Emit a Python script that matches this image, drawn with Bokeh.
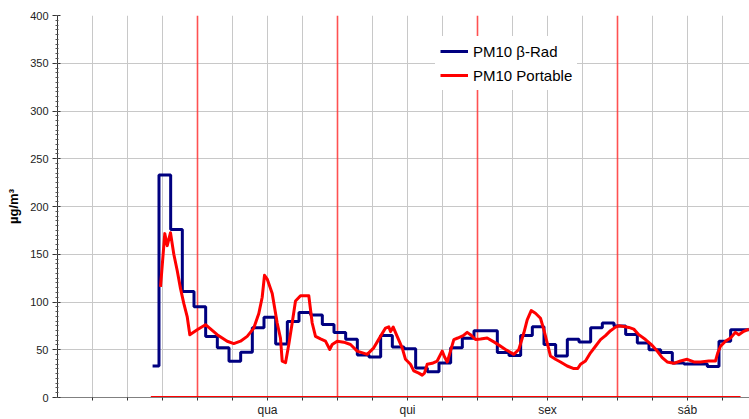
from bokeh.plotting import figure
from bokeh.models import (FixedTicker, SingleIntervalTicker, Legend, LegendItem,
                          Range1d)
from bokeh.embed import file_html
from bokeh.resources import INLINE

# ---------------- data ----------------
# time axis in hours from start of the chart (tue 00:00)
day_names = ["qua", "qui", "sex", "sáb"]
day_mid_hours = [36, 60, 84, 108]
day_start_hours = [24, 48, 72, 96]
grid_hours = [6, 12, 18, 30, 36, 42, 54, 60, 66, 78, 84, 90,
              102, 108, 114]
tick_hours = [6, 12, 18, 24, 30, 36, 42, 48, 54, 60, 66, 72, 78, 84, 90, 96,
              102, 108, 114]

# PM10 beta-Rad (2-hourly values, drawn as steps)
brad_hours = [16.3, 17.4, 19.4, 21.4, 23.4, 25.4, 27.4, 29.4, 31.4, 33.4, 35.4,
              37.4, 39.4, 41.4, 43.4, 45.4, 47.4, 49.4, 51.4, 53.4, 55.4, 57.4,
              59.4, 61.4, 63.4, 65.4, 67.4, 69.4, 71.4, 73.4, 75.4, 77.4, 79.4,
              81.4, 83.4, 85.4, 87.4, 89.4, 91.4, 93.4, 95.4, 97.4, 99.4, 101.4,
              103.4, 105.4, 107.4, 109.4, 111.4, 113.4, 115.4, 117.4, 118.7]
brad_vals = [33, 233, 176, 111, 95, 64, 52, 38, 47.5, 73, 84,
             56, 79.5, 89, 86.5, 76.5, 68, 61, 44.5, 42.5, 65, 53,
             51, 31, 27, 36, 52, 62, 70, 70, 47, 44, 65,
             74, 55.5, 43.5, 61, 58, 73, 78, 75, 66, 57, 50,
             47, 36, 35, 35, 32.5, 59, 71, 71, 71]

# PM10 Portable
port_hours = [17.66, 18.39, 18.81, 19.37, 19.94, 20.52, 21.09, 21.65, 22.23, 22.68,
              23.95, 25.37, 27.38, 29.09, 30.22, 31.37, 32.52, 33.65, 34.51, 35.09,
              35.49, 35.95, 36.81, 37.66, 38.23, 38.52, 39.09, 39.65, 40.23, 40.80,
              41.66, 43.08, 43.66, 44.23, 45.09, 45.94, 46.68, 47.09, 47.95, 49.08,
              50.23, 51.38, 53.09, 54.22, 55.37, 56.23, 56.79, 57.09, 57.55, 58.23,
              59.09, 59.66, 60.51, 61.08, 61.94, 62.52, 62.91, 63.38, 64.23, 65.09,
              65.95, 66.34, 66.81, 67.37, 67.94, 68.62, 69.55, 70.23, 70.80, 71.66,
              72.51, 73.66, 75.09, 76.80, 78.22, 79.08, 79.94, 80.52, 81.21, 81.94,
              82.80, 83.37, 83.95, 84.51, 85.37, 86.23, 87.38, 88.51, 89.19, 89.66,
              90.51, 91.37, 92.23, 93.09, 93.94, 94.80, 95.66, 96.22, 97.08, 97.94,
              98.79, 99.65, 100.80, 101.95, 102.81, 103.66, 104.52, 105.65, 106.80,
              107.95, 109.08, 110.23, 111.65, 112.80, 113.19, 113.66, 114.51, 115.37,
              116.23, 116.79, 117.65, 118.51]
port_vals = [115.8, 171.6, 159, 172.6, 150, 133, 114, 98.5, 84.8, 65.8,
             71, 76.2, 65.8, 58.9, 56.5, 59, 64, 72.7, 88, 105,
             128, 124, 108.8, 78, 62, 38, 36.5, 55.5, 78, 101,
             106.5, 106.5, 78, 64, 61.3, 59, 50.3, 55.5, 59, 57.9,
             55.5, 48.6, 45.2, 52, 64, 72.7, 74, 69, 73.7, 64,
             52, 40, 34.8, 27.9, 25.5, 23.4, 25.5, 34.8, 35.8, 38.2,
             48.6, 42.7, 37.2, 48.6, 60.6, 62.3, 64.8, 68.2, 65.8, 60.7,
             61.3, 62.3, 57.2, 50.3, 45.2, 50.3, 67.5, 81.3, 91, 88.2,
             83, 71, 57.2, 43.4, 40, 37.2, 33, 30.3, 30.3, 34.8,
             38.2, 46.8, 53.7, 60.6, 64.8, 70, 73.7, 75.1, 74.4, 73.4,
             71.6, 65.8, 60.7, 54.5, 48.6, 41.7, 37.2, 35.8, 38.2,
             40, 37.2, 37.2, 38.2, 38.2, 46.8, 53.7, 58.9, 62.3,
             68.2, 65.8, 69.3, 71.6]

# zero baseline of the day-marker series
marker_hours = [16.0, 117.1]
marker_vals = [0, 0]

FONT = "Liberation Sans"

p = figure(width=749, height=419, output_backend="svg", toolbar_location=None,
           x_range=Range1d(0, 118.63), y_range=Range1d(0, 400),
           min_border_left=57, min_border_right=0, min_border_top=15,
           min_border_bottom=17)
p.outline_line_color = None
p.background_fill_color = "white"

# grids
p.xgrid.ticker = FixedTicker(ticks=grid_hours)
p.xgrid.grid_line_color = "#c8c8c8"
p.xgrid.grid_line_width = 1
p.ygrid.ticker = FixedTicker(ticks=[50, 100, 150, 200, 250, 300, 350])
p.ygrid.grid_line_color = "#c8c8c8"
p.ygrid.grid_line_width = 1

# y axis
p.yaxis.ticker = SingleIntervalTicker(interval=50, num_minor_ticks=10)
p.yaxis.axis_label = "µg/m³"
p.yaxis.axis_label_text_font = FONT
p.yaxis.axis_label_text_font_style = "bold"
p.yaxis.axis_label_text_font_size = "13px"
p.yaxis.axis_label_text_color = "#000000"
p.yaxis.axis_label_standoff = 6
p.yaxis.major_label_text_font = FONT
p.yaxis.major_label_text_font_size = "11px"
p.yaxis.major_label_text_color = "#222222"
p.yaxis.major_label_standoff = 4
p.yaxis.major_tick_out = 5
p.yaxis.major_tick_in = 3
p.yaxis.minor_tick_out = 2
p.yaxis.minor_tick_in = 1
p.yaxis.axis_line_color = "#333333"
p.yaxis.major_tick_line_color = "#333333"
p.yaxis.minor_tick_line_color = "#555555"

# x axis
p.xaxis.ticker = FixedTicker(ticks=day_mid_hours, minor_ticks=tick_hours)
p.xaxis.major_label_overrides = {h: n for h, n in zip(day_mid_hours, day_names)}
p.xaxis.major_label_text_font = FONT
p.xaxis.major_label_text_font_size = "12px"
p.xaxis.major_label_text_color = "#222222"
p.xaxis.major_label_standoff = 2
p.xaxis.major_tick_out = 0
p.xaxis.major_tick_in = 0
p.xaxis.minor_tick_out = 3
p.xaxis.minor_tick_in = 0
p.xaxis.axis_line_color = "#808080"
p.xaxis.minor_tick_line_color = "#333333"

# day separators
p.vspan(x=day_start_hours, line_color="#ff3333", line_width=1.6, line_alpha=0.85)

p.line(marker_hours, marker_vals, line_color="#ff0000", line_width=3)

r_brad = p.step(brad_hours, brad_vals, mode="after", line_color="#000080",
                line_width=3)
r_port = p.line(port_hours, port_vals, line_color="#ff0000", line_width=3,
                line_join="round")

legend = Legend(items=[LegendItem(label="PM10 β-Rad", renderers=[r_brad]),
                       LegendItem(label="PM10 Portable", renderers=[r_port])],
                location=(378, 307))
legend.border_line_alpha = 0
legend.background_fill_color = "white"
legend.background_fill_alpha = 1
legend.padding = 5
legend.margin = 0
legend.spacing = 4
legend.label_text_font = FONT
legend.label_text_font_size = "15px"
legend.label_text_color = "#000000"
legend.glyph_width = 28
legend.glyph_height = 20
legend.label_height = 20
legend.label_standoff = 5
p.add_layout(legend)

open("out.html", "w").write(file_html(p, INLINE))
